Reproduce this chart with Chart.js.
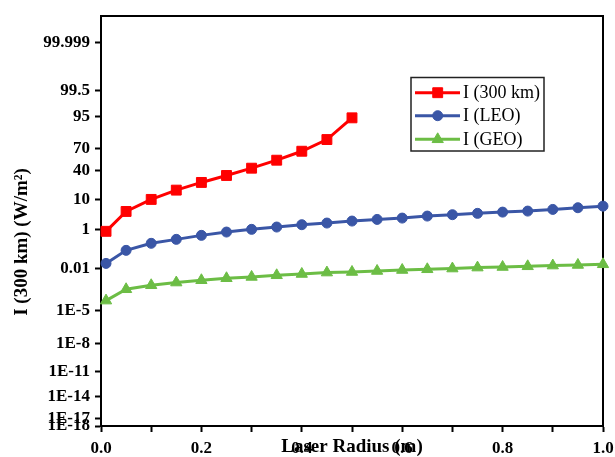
<!DOCTYPE html>
<html><head><meta charset="utf-8">
<script src="https://cdn.jsdelivr.net/npm/chart.js@4.4.1/dist/chart.umd.min.js"></script>
<style>html,body{margin:0;padding:0;background:#fff}#wrap{width:615px;height:457px}</style>
</head><body><div id="wrap"><canvas id="c" width="615" height="457"></canvas></div>
<script>
// ---- data ----
const radius = [0.01,0.05,0.10,0.15,0.20,0.25,0.30,0.35,0.40,0.45,0.50,0.55,0.60,0.65,0.70,0.75,0.80,0.85,0.90,0.95,1.00];
const i300 = [0.83,4.5,10.2,17.3,25.1,33.5,43.3,54.5,66.6,80.0,94.6];
const iLEO = [0.021,0.108,0.241,0.369,0.557,0.774,1.0,1.24,1.53,1.77,2.1,2.41,2.69,3.16,3.52,3.9,4.29,4.63,5.23,5.9,6.59];
const iGEO = [6.5e-5,4.5e-4,8.6e-4,1.32e-3,1.88e-3,2.55e-3,3.1e-3,3.97e-3,4.8e-3,5.9e-3,6.4e-3,7.4e-3,8.5e-3,9.4e-3,0.0104,0.0119,0.0129,0.0142,0.0157,0.0170,0.0186];
const seriesNames = ['I (300 km)','I (LEO)','I (GEO)'];
const yTickLabels = ['99.999','99.5','95','70','40','10','1','0.01','1E-5','1E-8','1E-11','1E-14','1E-17','1E-18'];
const xTickValues = [0,0.1,0.2,0.3,0.4,0.5,0.6,0.7,0.8,0.9,1.0];
const xTickLabels = {'0':'0.0','0.2':'0.2','0.4':'0.4','0.6':'0.6','0.8':'0.8','1':'1.0'};
const yMinValue = 1e-18, yMaxValue = 99.99999;
const xTitle = 'Laser Radius (m)';
const yTitle = 'I (300 km) (W/m\u00B2)';

// probability (normal quantile) scale transform
function probit(p){
  const a=[-3.969683028665376e+01,2.209460984245205e+02,-2.759285104469687e+02,1.383577518672690e+02,-3.066479806614716e+01,2.506628277459239e+00];
  const b=[-5.447609879822406e+01,1.615858368580409e+02,-1.556989798598866e+02,6.680131188771972e+01,-1.328068155288572e+01];
  const c=[-7.784894002430293e-03,-3.223964580411365e-01,-2.400758277161838e+00,-2.549732539343734e+00,4.374664141464968e+00,2.938163982698783e+00];
  const d=[7.784695709041462e-03,3.224671290700398e-01,2.445134137142996e+00,3.754408661907416e+00];
  const pl=0.02425, ph=1-pl;
  let q,r;
  if(p<pl){ q=Math.sqrt(-2*Math.log(p));
    return (((((c[0]*q+c[1])*q+c[2])*q+c[3])*q+c[4])*q+c[5])/((((d[0]*q+d[1])*q+d[2])*q+d[3])*q+1); }
  if(p<=ph){ q=p-0.5; r=q*q;
    return (((((a[0]*r+a[1])*r+a[2])*r+a[3])*r+a[4])*r+a[5])*q/(((((b[0]*r+b[1])*r+b[2])*r+b[3])*r+b[4])*r+1); }
  q=Math.sqrt(-2*Math.log(1-p));
  return -(((((c[0]*q+c[1])*q+c[2])*q+c[3])*q+c[4])*q+c[5])/((((d[0]*q+d[1])*q+d[2])*q+d[3])*q+1);
}
const toZ = v => probit(v/100);

const RED='#FF0000', BLUE='#3A56A6', GREEN='#6CBD45';
const serif = 'Liberation Serif, Times New Roman, serif';
const styles = [
  {color:RED, pointStyle:'rect', radius:7},
  {color:BLUE, pointStyle:'circle', radius:5},
  {color:GREEN, pointStyle:'triangle', radius:6.5}
];
const series = [i300, iLEO, iGEO];
const datasets = series.map((vals,k)=>({
  label: seriesNames[k],
  data: vals.map((v,i)=>({x: radius[i], y: toZ(v)})),
  borderColor: styles[k].color, backgroundColor: styles[k].color,
  pointBackgroundColor: styles[k].color, pointBorderColor: styles[k].color,
  pointStyle: styles[k].pointStyle, pointRadius: styles[k].radius, pointBorderWidth: 1,
  borderWidth: 3, tension: 0, clip: false
}));

const framePlugin = {
  id:'frame',
  beforeDatasetsDraw(chart){
    const {ctx, chartArea:a} = chart;
    ctx.save(); ctx.strokeStyle='#000'; ctx.lineWidth=2;
    ctx.beginPath(); ctx.moveTo(a.left, a.top); ctx.lineTo(a.right, a.top); ctx.lineTo(a.right, a.bottom); ctx.stroke();
    ctx.restore();
  }
};
const legendPlugin = {
  id:'boxLegend',
  afterDraw(chart){
    const ctx = chart.ctx;
    ctx.save();
    ctx.strokeStyle='#222'; ctx.lineWidth=1.5;
    ctx.strokeRect(411, 77.5, 133, 73.5);
    const rows=[92.7,115.7,139.3];
    ctx.font = '18px ' + serif; ctx.textBaseline='middle'; ctx.fillStyle='#000';
    rows.forEach((y,k)=>{
      const s=styles[k];
      ctx.strokeStyle=s.color; ctx.lineWidth=3;
      ctx.beginPath(); ctx.moveTo(415,y); ctx.lineTo(460,y); ctx.stroke();
      ctx.fillStyle=s.color; ctx.strokeStyle=s.color; ctx.lineWidth=1;
      Chart.helpers.drawPoint(ctx,{pointStyle:s.pointStyle, radius:s.radius, rotation:0, borderWidth:1}, 437.7, y);
      ctx.fillStyle='#000';
      ctx.fillText(seriesNames[k], 463, y+1);
    });
    ctx.restore();
  }
};
const yTitlePlugin = {
  id:'yTitle',
  afterDraw(chart){
    const ctx=chart.ctx;
    ctx.save();
    ctx.translate(22, 242); ctx.rotate(-Math.PI/2);
    ctx.font='bold 19px '+serif; ctx.fillStyle='#000'; ctx.textAlign='center'; ctx.textBaseline='middle';
    ctx.fillText(yTitle, 0, 0);
    ctx.restore();
  }
};

const tickFont = {family: serif, weight:'bold', size:17};
new Chart(document.getElementById('c'), {
  type:'line',
  data:{datasets},
  options:{
    responsive:false, animation:false, devicePixelRatio:1,
    layout:{padding:{top:16, right:12, bottom:0, left:0}},
    plugins:{legend:{display:false}, tooltip:{enabled:false}},
    scales:{
      x:{type:'linear', min:0, max:1,
        afterFit(s){ s.height = 31; s.paddingLeft = 0; s.paddingRight = 0; },
        afterBuildTicks(s){ s.ticks = xTickValues.map(v=>({value:v})); },
        ticks:{autoSkip:false, maxRotation:0, padding:6, color:'#000', font:tickFont,
          callback:(v)=> xTickLabels[String(Math.round(v*10)/10)] || ''},
        grid:{drawOnChartArea:false, drawTicks:true, tickLength:6, tickWidth:2, tickColor:'#000'},
        border:{display:true, color:'#000', width:2},
        title:{display:true, text:xTitle, color:'#000', padding:0, font:{family:serif, weight:'bold', size:19, lineHeight:1}}
      },
      y:{type:'linear', min:toZ(yMinValue), max:toZ(yMaxValue),
        afterFit(s){ s.width = 101; s.paddingTop = 0; s.paddingBottom = 0; },
        afterBuildTicks(s){ s.ticks = yTickLabels.map(l=>({value: toZ(parseFloat(l))})); },
        ticks:{autoSkip:false, padding:5, color:'#000', font:tickFont,
          callback:(v,i)=> yTickLabels[i]},
        grid:{drawOnChartArea:false, drawTicks:true, tickLength:6, tickWidth:2, tickColor:'#000'},
        border:{display:true, color:'#000', width:2}
      }
    }
  },
  plugins:[framePlugin, legendPlugin, yTitlePlugin]
});
</script></body></html>
